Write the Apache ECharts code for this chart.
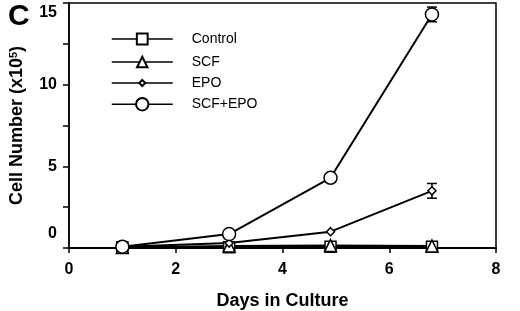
<!DOCTYPE html>
<html>
<head>
<meta charset="utf-8">
<script src="https://cdn.jsdelivr.net/npm/echarts@6/dist/echarts.min.js"></script>
<style>
  html, body { margin: 0; padding: 0; background: #fff; }
  #chart { width: 520px; height: 311px; }
</style>
</head>
<body>
<div id="chart"></div>
<script>
const days = [1.0, 3.0, 4.9, 6.8];
const control = [0.05, 0.05, 0.08, 0.08];
const scf = [0.03, 0.12, 0.15, 0.12];
const epo = [0.08, 0.3, 1.0, 3.5];
const scfEpo = [0.08, 0.85, 4.3, 14.3];
const epoErr = [0, 0.05, 0.15, 0.45];
const scfEpoErr = [0, 0.05, 0.1, 0.45];
const seriesNames = ['Control', 'SCF', 'EPO', 'SCF+EPO'];

const font = 'Liberation Sans, Arial, sans-serif';
const chart = echarts.init(document.getElementById('chart'));

function pairs(ys) {
  return days.map((d, i) => [d, ys[i]]);
}

function errorSeries(ys, errs) {
  return {
    type: 'custom',
    silent: true,
    z: 1,
    data: days.map((d, i) => [d, ys[i] - errs[i], ys[i] + errs[i]]),
    renderItem: (params, api) => {
      const lo = api.coord([api.value(0), api.value(1)]);
      const hi = api.coord([api.value(0), api.value(2)]);
      if (hi[1] - lo[1] > -6) return null;
      const w = 5;
      const style = { stroke: '#000', lineWidth: 1.5 };
      return {
        type: 'group',
        children: [
          { type: 'line', shape: { x1: lo[0], y1: lo[1], x2: hi[0], y2: hi[1] }, style },
          { type: 'line', shape: { x1: lo[0] - w, y1: lo[1], x2: lo[0] + w, y2: lo[1] }, style },
          { type: 'line', shape: { x1: hi[0] - w, y1: hi[1], x2: hi[0] + w, y2: hi[1] }, style }
        ]
      };
    }
  };
}

function lineSeries(name, ys, symbol, size) {
  return {
    name,
    type: 'line',
    data: pairs(ys),
    symbol,
    symbolSize: size,
    showAllSymbol: true,
    z: 3,
    lineStyle: { color: '#000', width: 2 },
    itemStyle: { color: '#fff', borderColor: '#000', borderWidth: 1.5 }
  };
}

// one legend per row so each icon keeps its own marker size
const legendRowY = [38, 61, 82, 103];
const legendIconH = [13.5, 13, 7.5, 15.5];
const legends = seriesNames.map((n, i) => ({
  orient: 'vertical',
  left: 111,
  top: legendRowY[i] - 6,
  padding: 0,
  itemWidth: 61,
  itemHeight: legendIconH[i],
  lineStyle: { width: 1.5 },
  textStyle: { fontFamily: font, fontSize: 14, color: '#000', padding: [0, 0, 0, 14] },
  data: [n]
}));

// y tick labels in the original sit a little off their ticks at both ends
function yLabel(v) {
  if (v === 0) return '{lo|0}';
  if (v === 15) return '{hi|15}';
  return v % 5 === 0 ? String(v) : '';
}

const labelFont = { fontFamily: font, fontSize: 16, fontWeight: 'bold', color: '#000' };

chart.setOption({
  animation: false,
  title: {
    text: 'C',
    left: 3,
    top: -3,
    textStyle: { fontFamily: font, fontSize: 30, fontWeight: 'bold', color: '#000' }
  },
  legend: legends,
  grid: {
    left: 69, right: 24, top: 3, bottom: 63,
    outerBoundsMode: 'none',
    show: true, borderColor: '#000', borderWidth: 1.5, backgroundColor: 'transparent'
  },
  xAxis: {
    type: 'value',
    min: 0, max: 8, interval: 2,
    name: 'Days in Culture',
    nameLocation: 'middle',
    nameGap: 44,
    nameTextStyle: { fontFamily: font, fontSize: 18, fontWeight: 'bold', color: '#000' },
    axisLine: { lineStyle: { color: '#000', width: 2 } },
    axisTick: { length: 5, lineStyle: { color: '#000', width: 1.5 } },
    axisLabel: Object.assign({ margin: 14 }, labelFont),
    splitLine: { show: false }
  },
  yAxis: {
    type: 'value',
    min: 0, max: 15, interval: 2.5,
    name: 'Cell Number (x10{sup|5})',
    nameLocation: 'middle',
    nameGap: 43,
    nameTextStyle: {
      fontFamily: font, fontSize: 18, fontWeight: 'bold', color: '#000',
      rich: { sup: { fontFamily: font, fontSize: 11, fontWeight: 'bold', color: '#000', verticalAlign: 'top', lineHeight: 11 } }
    },
    axisLine: { lineStyle: { color: '#000', width: 1.5 } },
    axisTick: { length: 6, lineStyle: { color: '#000', width: 1.5 } },
    axisLabel: Object.assign({
      margin: 12,
      formatter: yLabel,
      rich: {
        lo: Object.assign({ padding: [0, 0, 29, 0] }, labelFont),
        hi: Object.assign({ padding: [20, 0, 0, 0] }, labelFont)
      }
    }, labelFont),
    splitLine: { show: false }
  },
  series: [
    errorSeries(epo, epoErr),
    errorSeries(scfEpo, scfEpoErr),
    lineSeries(seriesNames[0], control, 'rect', 11),
    lineSeries(seriesNames[1], scf, 'triangle', 12),
    lineSeries(seriesNames[2], epo, 'diamond', 8),
    lineSeries(seriesNames[3], scfEpo, 'circle', 13)
  ]
});
</script>
</body>
</html>
